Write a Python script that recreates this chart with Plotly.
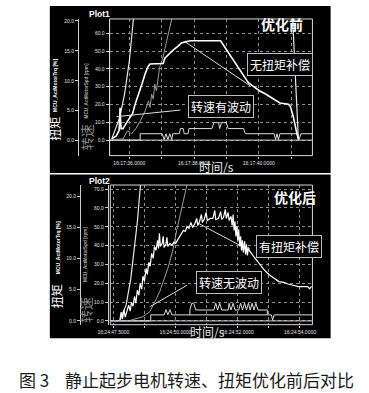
import plotly.graph_objects as go

W, H = 369, 393

# ---------------- data: top chart (优化前) ----------------
top_x_range = [35.39, 41.66]
top_xticks = [36, 37, 38, 39, 40, 41]
top_xticklabels = ["16:17:36.0000", "", "16:17:38.0000", "", "16:17:40.0000", ""]
top_speed_ticks = [0, 10, 20, 30, 40, 50, 60]
top_torque_ticks = [0, 5, 10, 15, 20]

t1_steep = [35.456, 35.704, 35.852, 36.0, 36.148, 36.19, 41.01, 41.047, 41.225]
v1_steep = [0.7, 12.8, 25.9, 44.5, 72.5, 90, 90, 68.6, 0.7]

t1_spd = [35.476, 35.802, 35.95, 36.068, 36.195, 36.343, 36.491, 36.592, 36.639, 36.689,
          36.74, 36.787, 36.837, 36.888, 36.935, 37.036, 37.133, 37.231, 37.331, 37.385]
v1_spd = [0.3, 0.7, 5.3, 3.6, 6.3, 10.9, 16.5, 22.1, 18.4, 25.9,
          23.1, 31.5, 27.7, 35.2, 40.8, 46.4, 53.9, 61.3, 69.7, 78.2]

t1_trq = [35.456, 35.595, 35.683, 35.713, 35.743, 35.802, 35.95, 36.098, 36.186, 36.296,
          36.393, 36.491, 36.571, 36.639, 37.044, 37.104, 37.192, 37.281, 37.37, 37.488,
          37.607, 37.725, 37.902, 38.82, 38.967, 39.145, 39.322, 39.5, 39.678, 39.855,
          40.033, 40.21, 40.388, 40.565, 40.654, 40.92, 40.979, 41.068, 41.127, 41.186, 41.231]
tq1 = [0.3, 0.8, 1.7, 5.5, 2.0, 2.0, 3.3, 4.5, 6.2, 7.8,
       9.5, 11.2, 12.3, 12.8, 12.9, 13.8, 14.3, 14.7, 15.2, 15.7,
       16.3, 16.5, 16.7, 16.7, 15.5, 14.0, 12.5, 11.0, 9.7, 9.0,
       8.3, 7.8, 7.2, 6.7, 6.3, 6.1, 5.7, 4.0, 2.3, 1.0, 0.2]

t1_diag = [37.725, 39.737]
v1_diag = [55.2, 30.5]

t1_state = [35.39, 36.334, 36.334, 37.015, 37.074, 37.133, 37.192, 37.251, 37.311, 37.34,
            37.547, 37.577, 37.666, 37.695, 37.814, 37.843, 38.553, 38.612, 38.76, 38.79,
            38.849, 38.997, 39.056, 39.53, 39.589, 40.476, 40.521, 40.565, 40.609, 40.654,
            41.186, 41.246, 41.305, 41.66]
v1_state = [0, 0, 3.6, 3.6, 0.3, 3.6, 0.3, 3.6, 0.3, 3.6,
            3.6, 6.5, 6.5, 3.6, 3.6, 6.5, 6.5, 9.8, 9.8, 6.5,
            9.8, 9.8, 6.5, 6.5, 3.6, 3.6, 0.3, 3.6, 0.3, 3.6,
            3.6, 0.3, 3.6, 3.6]

t1_zero = [35.39, 41.66]
v1_zero = [0, 0]

# ---------------- data: bottom chart (优化后) ----------------
bot_x_range = [47.9, 54.4]
bot_xticks = [48, 49, 50, 51, 52, 53, 54]
bot_xticklabels = ["16:24:47.5000", "", "16:24:50.0000", "", "16:24:52.0000", "", "16:24:54.0000"]
bot_speed_ticks = [0, 10, 20, 30, 40, 50, 60, 70]
bot_torque_ticks = [0, 5, 10, 15, 20]

t2_steep = [48.21, 48.41, 48.56, 48.67, 48.77, 48.87, 48.91]
v2_steep = [0.5, 8.5, 22.6, 36.8, 52.7, 72.1, 80]

t2_spd = [48.55, 48.92, 49.18, 49.49, 49.75, 49.9, 50.05, 50.26, 50.38, 50.43]
v2_spd = [0.4, 2.0, 5.0, 15.6, 27.9, 36.8, 49.2, 63.3, 72.1, 77.1]

t2_trq = [48.21, 48.25, 48.29, 48.34, 48.38, 48.43, 48.49, 48.54, 48.58, 48.63,
          48.68, 48.72, 48.77, 48.82, 48.86, 48.91, 48.95, 49.0, 49.05, 49.09,
          49.14, 49.18, 49.23, 49.28, 49.32, 49.37, 49.42, 49.45, 49.48, 49.51,
          49.57, 49.6, 49.63, 49.69, 49.72, 49.75, 49.82, 49.88, 49.94, 50.0,
          50.06, 50.12, 50.18, 50.25, 50.31, 50.37, 50.43, 50.49, 50.55, 50.62,
          50.68, 50.71, 50.77, 50.83, 50.86, 50.92, 50.98, 51.02, 51.11, 51.2,
          51.26, 51.29, 51.38, 51.45, 51.48, 51.54, 51.6, 51.63, 51.69, 51.72,
          51.78, 51.82, 51.85, 51.88, 51.91, 51.94, 51.97, 52.0, 52.03, 52.06,
          52.09, 52.12, 52.15, 52.18, 52.22, 52.25, 52.28, 52.31, 52.34, 52.37,
          52.46, 52.58, 52.71, 52.86, 53.02, 53.17, 53.32, 53.48, 53.63, 53.78,
          53.94, 54.09, 54.25, 54.31, 54.37]
tq2 = [0.16, 1.39, 0.27, 1.71, 0.59, 1.55, 2.51, 1.55, 2.99, 2.35,
       3.95, 2.83, 4.91, 4.11, 6.03, 5.07, 7.15, 6.35, 8.43, 7.47,
       9.39, 8.75, 10.83, 10.03, 11.95, 11.31, 12.91, 11.63, 14.03, 11.95,
       12.43, 13.55, 11.79, 12.27, 13.39, 11.95, 12.43, 12.11, 12.59, 12.43,
       12.91, 13.55, 13.87, 14.51, 14.35, 15.15, 14.83, 15.79, 14.99, 15.63,
       16.43, 15.31, 15.95, 17.07, 15.79, 16.27, 17.39, 16.11, 16.43, 16.43,
       17.71, 16.27, 16.43, 17.55, 16.27, 16.59, 17.87, 16.43, 17.39, 16.11,
       16.75, 15.31, 17.07, 14.51, 15.95, 13.55, 15.15, 12.91, 14.67, 11.95,
       13.55, 11.31, 12.91, 10.99, 12.75, 10.67, 12.27, 10.51, 11.79, 11.31,
       10.67, 9.87, 8.96, 8.11, 7.36, 6.83, 6.30, 6.19, 5.87, 5.71,
       5.50, 5.50, 5.50, 5.15, 5.55]

t2_diag = [50.68, 52.37]
v2_diag = [52.3, 37.5]

t2_gear = [47.9, 49.2, 49.2, 49.63, 49.69, 49.75, 49.82, 49.88, 53.08, 53.12, 53.17, 54.4]
v2_gear = [0, 0, 3.2, 3.2, 6.0, 3.2, 6.0, 3.2, 3.2, 0.5, 3.2, 3.2]

t2_flag = [50.46, 50.46, 50.52, 50.58, 50.65, 51.23, 51.29, 51.35, 51.42, 51.48,
           51.69, 51.72, 51.78, 51.85, 51.91, 52.03, 52.09, 52.15, 52.22, 52.28,
           52.34, 52.4, 52.46, 52.52, 52.58, 52.65, 52.95, 52.95]
v2_flag = [3.2, 5.8, 9.4, 9.4, 5.8, 5.8, 9.4, 5.8, 9.4, 5.8,
           5.8, 9.4, 5.8, 9.4, 5.8, 5.8, 9.4, 5.8, 9.4, 5.8,
           9.4, 5.8, 9.4, 5.8, 9.4, 5.8, 5.8, 3.2]

t2_zero = [47.9, 54.4]
v2_zero = [0, 0]

# callout pointer lines (time, speed)
top_pointer = [(35.604, 13.2), (37.577, 16.9)]
bot_pointer = [(49.18, 7.6), (50.36, 18.9)]

# ---------------- helpers ----------------
def PX(x):
    return x / W


def PY(y):
    return 1 - y / H


CJK = "Noto Sans CJK SC"
LAT = "Liberation Sans"

fig = go.Figure()


def line(x, y, xa, ya, color, width):
    fig.add_trace(go.Scatter(x=x, y=y, xaxis=xa, yaxis=ya, mode="lines",
                             line=dict(color=color, width=width), hoverinfo="skip",
                             showlegend=False))


# top traces
line(t1_zero, v1_zero, "x", "y", "#d0d0d0", 1)
line(t1_state, v1_state, "x", "y", "#dcdcdc", 1)
line(t1_steep, v1_steep, "x", "y", "#e8e8e8", 1.2)
line(t1_spd, v1_spd, "x", "y", "#9a9a9a", 1)
line(t1_diag, v1_diag, "x", "y", "#dddddd", 1)
line(t1_trq, tq1, "x", "y2", "#ffffff", 1.6)

# bottom traces
line(t2_zero, v2_zero, "x2", "y3", "#d0d0d0", 1)
line(t2_gear, v2_gear, "x2", "y3", "#dcdcdc", 1)
line(t2_flag, v2_flag, "x2", "y3", "#dcdcdc", 1)
line(t2_steep, v2_steep, "x2", "y3", "#e8e8e8", 1.2)
line(t2_spd, v2_spd, "x2", "y3", "#9a9a9a", 1)
line(t2_diag, v2_diag, "x2", "y3", "#dddddd", 1)
line(t2_trq, tq2, "x2", "y4", "#ffffff", 1.2)

tickfont = dict(family=LAT, size=5, color="#e0e0e0")
grid = dict(showgrid=True, gridcolor="#8c8c8c", griddash="dot", gridwidth=1, zeroline=False)

xcommon = dict(grid, showline=False, ticks="outside", ticklen=2, tickcolor="#cccccc",
               tickfont=tickfont, tickmode="array")
ycommon = dict(anchor="free", side="left", showline=True, linecolor="#cccccc", linewidth=1,
               ticks="outside", ticklen=3, tickcolor="#cccccc", tickmode="array",
               tickformat=".1f", tickfont=tickfont, zeroline=False)

top_dom_y = [PY(155), PY(18)]
bot_dom_y = [PY(324.5), PY(184.5)]

fig.update_layout(
    width=W, height=H, margin=dict(l=0, r=0, t=0, b=0),
    paper_bgcolor="white", plot_bgcolor="black", showlegend=False,
    xaxis=dict(xcommon, domain=[PX(101), PX(313)], range=top_x_range, anchor="y",
               tickvals=top_xticks, ticktext=top_xticklabels),
    yaxis=dict(ycommon, domain=top_dom_y, position=PX(100), range=[-8.7, 68.1],
               tickvals=top_speed_ticks, showgrid=True, gridcolor="#8c8c8c", griddash="dot"),
    yaxis2=dict(ycommon, overlaying="y", position=PX(68), range=[-2.5, 20.33],
                tickvals=top_torque_ticks, showgrid=False),
    xaxis2=dict(xcommon, domain=[PX(101.7), PX(313)], range=bot_x_range, anchor="y3",
                tickvals=bot_xticks, ticktext=bot_xticklabels),
    yaxis3=dict(ycommon, domain=bot_dom_y, position=PX(99), range=[-2.0, 72.2],
                tickvals=bot_speed_ticks, showgrid=True, gridcolor="#8c8c8c", griddash="dot"),
    yaxis4=dict(ycommon, overlaying="y3", position=PX(70), range=[-0.61, 21.79],
                tickvals=bot_torque_ticks, showgrid=False),
)

shapes = [
    dict(type="rect", xref="paper", yref="paper", x0=PX(38.5), x1=PX(332), y0=PY(172.5), y1=PY(5),
         fillcolor="black", line=dict(width=0), layer="below"),
    dict(type="rect", xref="paper", yref="paper", x0=PX(38.5), x1=PX(332), y0=PY(338), y1=PY(174),
         fillcolor="black", line=dict(width=0), layer="below"),
    dict(type="rect", xref="x domain", yref="y domain", x0=0, x1=1, y0=0, y1=1,
         line=dict(color="#d8d8d8", width=1)),
    dict(type="rect", xref="x2 domain", yref="y3 domain", x0=0, x1=1, y0=0, y1=1,
         line=dict(color="#d8d8d8", width=1)),
    dict(type="line", xref="x", yref="y", x0=top_pointer[0][0], y0=top_pointer[0][1],
         x1=top_pointer[1][0], y1=top_pointer[1][1], line=dict(color="#e0e0e0", width=1)),
    dict(type="line", xref="x2", yref="y3", x0=bot_pointer[0][0], y0=bot_pointer[0][1],
         x1=bot_pointer[1][0], y1=bot_pointer[1][1], line=dict(color="#e0e0e0", width=1)),
]
fig.update_layout(shapes=shapes)

ann = []


def text(x, y, s, size, color="white", family=CJK, angle=0, box=False, xanchor="center"):
    a = dict(x=PX(x), y=PY(y), xref="paper", yref="paper", text=s, showarrow=False,
             xanchor=xanchor, yanchor="middle", textangle=angle, align="left",
             font=dict(family=family, size=size, color=color))
    if box:
        a.update(bgcolor="black", bordercolor="#bdbdbd", borderwidth=1, borderpad=2,
                 align="center")
    ann.append(a)


# top panel texts
text(90, 13, "<b>Plot1</b>", 8.5, family=LAT)
text(44, 85, "<b>MCU_ActMotorTrq [%]</b>", 5, family=LAT, angle=-90)
text(77, 90, "<b>MCU_ActMotorSpd [rpm]</b>", 4.6, color="#a8a8a8", family=LAT, angle=-90)
text(44, 128, "扭矩", 12, angle=-90)
text(77, 137, "转速", 13, color="#8c8c8c", angle=-90)
text(281.5, 23, "<b>优化前</b>", 14)
text(279, 64, "无扭矩补偿", 12, box=True)
text(217, 106, "转速有波动", 12, box=True)
text(213, 166, "时间/s", 12, color="#e8e8e8")

# bottom panel texts
text(90, 180, "<b>Plot2</b>", 8.5, family=LAT)
text(47, 247, "<b>MCU_ActMotorTrq [%]</b>", 5, family=LAT, angle=-90)
text(76, 254, "<b>MCU_ActMotorSpd [rpm]</b>", 4.6, color="#a8a8a8", family=LAT, angle=-90)
text(45, 296, "扭矩", 12, angle=-90)
text(75, 310, "转速", 13, color="#8c8c8c", angle=-90)
text(295, 197, "<b>优化后</b>", 14)
text(288.5, 246, "有扭矩补偿", 12, box=True)
text(226, 282.5, "转速无波动", 12, box=True)
text(203, 331, "时间/s", 12, color="#e8e8e8")

# caption
text(4, 379, "图 3", 17, color="#1a1a1a", xanchor="left")
text(52, 379, "静止起步电机转速、扭矩优化前后对比", 17, color="#1a1a1a", xanchor="left")

fig.update_layout(annotations=ann)

fig.write_html("out.html", config={"displayModeBar": False},
               post_script="document.body.style.margin='0px';document.body.style.overflow='hidden';")
